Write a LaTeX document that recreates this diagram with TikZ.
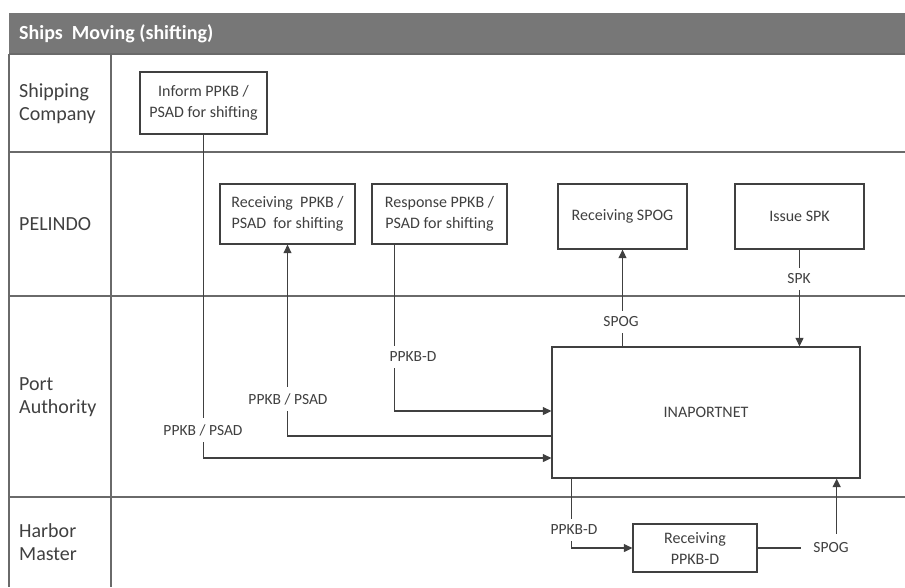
\documentclass[tikz,border=0pt]{standalone}
\usepackage{fontspec}
\setmainfont{Carlito}
\usetikzlibrary{arrows.meta}
\definecolor{ink}{HTML}{404040}
\definecolor{rule}{HTML}{6A6A6A}
\definecolor{band}{HTML}{777777}

\begin{document}
\begin{tikzpicture}[x=1pt,y=-1pt,
  lane/.style={draw=rule,line width=1.4pt},
  box/.style={draw=ink,line width=1.3pt,fill=white,text=ink,align=center,
    font=\fontsize{16}{21}\selectfont,inner sep=0pt},
  flow/.style={draw=ink,line width=1.3pt,-{Triangle[length=8.5pt,width=8pt]}},
  tag/.style={fill=white,text=ink,font=\fontsize{15.5}{18}\selectfont,
    inner xsep=1pt,inner ysep=6pt},
  lanename/.style={anchor=west,align=left,text=ink,
    font=\fontsize{20}{23}\selectfont,inner sep=0pt}
]
\useasboundingbox (0,0) rectangle (905,587);

% title band
\fill[band] (9,13) rectangle (905,54);
\node[anchor=west,text=white,font=\bfseries\fontsize{20}{22}\selectfont,inner sep=0pt]
  (title) at (19,33.5) {Ships\ \ Moving (shifting)};

% swimlane grid
\draw[lane] (9,54) -- (9,587);
\draw[lane] (111,54) -- (111,587);
\foreach \y in {54,152,296,497} \draw[lane] (9,\y) -- (905,\y);

% lane names
\node[lanename] (ln1) at (19,104) {Shipping\\Company};
\node[lanename] (ln2) at (19,224) {PELINDO};
\node[lanename] (ln3) at (19,397) {Port\\Authority};
\node[lanename] (ln4) at (19,542) {Harbor\\Master};

% process boxes
\node[box,minimum width=127pt,minimum height=62pt] (inform) at (203.5,103)
  {Inform PPKB /\\PSAD for shifting};
\node[box,minimum width=135pt,minimum height=60pt] (recv) at (287.5,214)
  {Receiving\ \ PPKB /\\PSAD\ \ for shifting};
\node[box,minimum width=135pt,minimum height=60pt] (resp) at (439.5,214)
  {Response PPKB /\\PSAD for shifting};
\node[box,minimum width=129pt,minimum height=65pt] (rspog) at (622.5,216.5)
  {Receiving SPOG};
\node[box,minimum width=129pt,minimum height=65pt] (ispk) at (799.5,216.5)
  {Issue SPK};
\node[box,minimum width=308pt,minimum height=131pt] (inap) at (706,412.5)
  {INAPORTNET};
\node[box,minimum width=124pt,minimum height=48pt] (rppkbd) at (695,548)
  {Receiving\\PPKB-D};

% message flows
\draw[flow] (inform.south) |- ([yshift=-45.5pt]inap.west);
\draw[flow] ([yshift=-23.5pt]inap.west) -| (recv.south);
\draw[flow] ([xshift=23pt]resp.south west) |- ([yshift=1.5pt]inap.west);
\draw[flow] (rspog.south |- inap.north) -- (rspog.south);
\draw[flow] (ispk.south) -- (ispk.south |- inap.north);
\draw[flow] ([xshift=20pt]inap.south west) |- (rppkbd.west);
\draw[flow] (rppkbd.east) -| ([xshift=-24pt]inap.south east);

% flow labels
\node[tag] (t1) at (203,430) {PPKB / PSAD};
\node[tag] (t2) at (288,399) {PPKB / PSAD};
\node[tag] (t3) at (413,357) {PPKB-D};
\node[tag] (t4) at (621,322) {SPOG};
\node[tag] (t5) at (799,279) {SPK};
\node[tag] (t6) at (574,530) {PPKB-D};
\node[tag,inner xsep=12pt,inner ysep=9pt] (t7) at (831,548) {SPOG};
\end{tikzpicture}
\end{document}
